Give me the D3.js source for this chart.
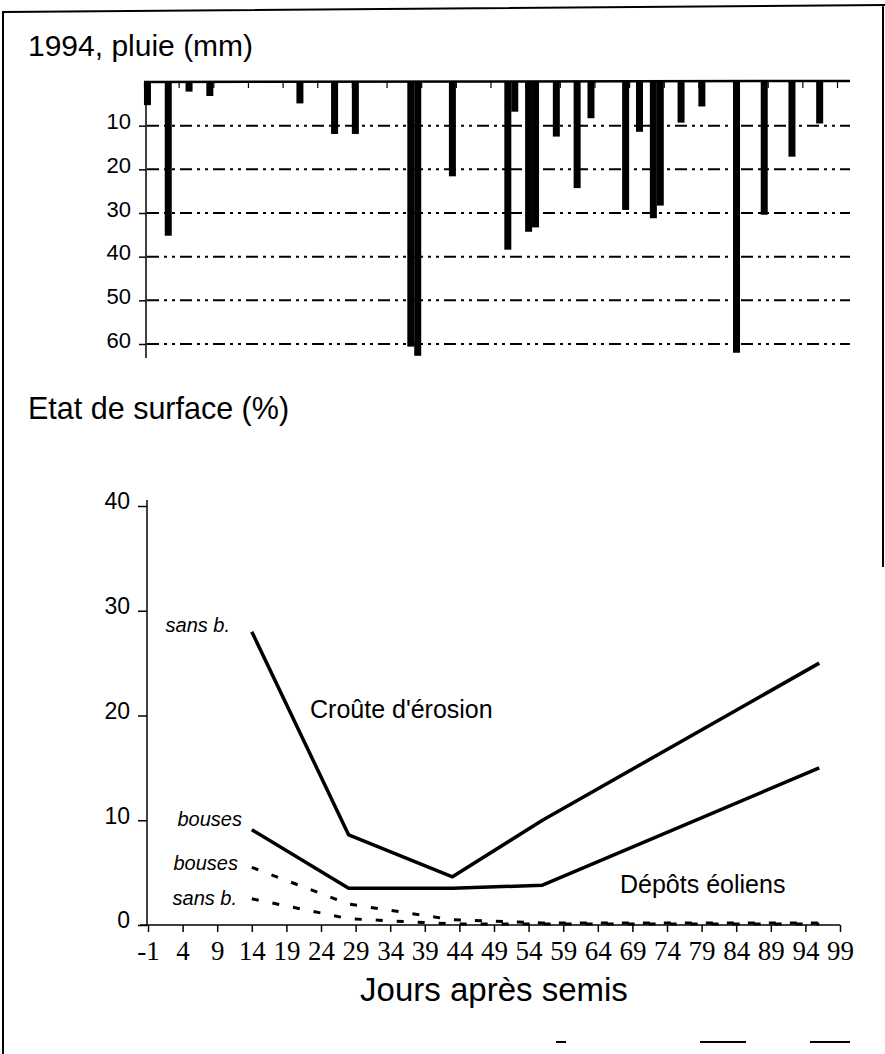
<!DOCTYPE html>
<html>
<head>
<meta charset="utf-8">
<script src="https://cdn.jsdelivr.net/npm/d3@7"></script>
<style>
  body { margin: 0; background: #fff; }
</style>
</head>
<body>
<div id="chart"></div>
<script>
// rainfall, 1994 (day after sowing, mm)
var rainDays = [-1, 2, 5, 8, 21, 26, 29, 37, 38, 43, 51, 52, 54, 55, 58, 61, 63, 68, 70, 72, 73, 76, 79, 84, 88, 92, 96];
var rainMm = [5.3, 35.2, 2.2, 3.2, 4.9, 11.9, 11.9, 60.6, 62.7, 21.6, 38.4, 6.8, 34.3, 33.3, 12.5, 24.3, 8.3, 29.3, 11.4, 31.2, 28.3, 9.3, 5.6, 62, 30.4, 17.1, 9.5];
var rainTicks = [10, 20, 30, 40, 50, 60];

// surface state (%)
var surfDays = [14, 28, 43, 56, 96];
var crouteSansB = [28, 8.6, 4.6, 10, 25];
var crouteBouses = [9.1, 3.5, 3.5, 3.8, 15];
var eolBouses = [5.5, 2.0, 0.5, 0.2, 0.2];
var eolSansB = [2.5, 0.6, 0.1, 0.1, 0.1];
var pctTicks = [0, 10, 20, 30, 40];
var dayTicks = d3.range(-1, 100, 5);

var W = 885, H = 1054;
var SANS = "'Liberation Sans', Arial, sans-serif";
var SERIF = "'Liberation Serif', 'Times New Roman', serif";

var svg = d3.select("#chart").append("svg")
    .attr("width", W)
    .attr("height", H)
    .style("font-family", SANS);

// frame (scanned page border)
svg.append("path")
    .attr("d", "M3,1054 L3,12 L885,5 M883,5 L883,567")
    .attr("fill", "none")
    .attr("stroke", "#000")
    .attr("stroke-width", 2);

//------------------ top chart : rain ------------------//
var xRain = d3.scaleLinear().domain([-1, 99]).range([144, 837]);
var yRain = d3.scaleLinear().domain([0, 60]).range([82, 344]);

svg.append("text")
    .attr("x", 28).attr("y", 56)
    .attr("font-size", 30)
    .text("1994, pluie (mm)");

// dash-dot grid
svg.append("g").selectAll("line")
    .data(rainTicks)
    .enter().append("line")
    .attr("x1", 147).attr("x2", 850)
    .attr("y1", d => yRain(d)).attr("y2", d => yRain(d))
    .attr("stroke", "#000")
    .attr("stroke-width", 2)
    .attr("stroke-dasharray", "12,5,3,5,3,5");

// bars hanging from the top axis
svg.append("g").selectAll("rect")
    .data(rainDays.map((d, i) => ({ day: d, mm: rainMm[i] })))
    .enter().append("rect")
    .attr("x", d => xRain(d.day + 0.5) - 3.5)
    .attr("y", yRain(0))
    .attr("width", 7)
    .attr("height", d => yRain(d.mm) - yRain(0))
    .attr("fill", "#000");

// left axis
var leftRain = d3.axisLeft(yRain).tickValues(rainTicks).tickSize(7).tickPadding(8);
var gl = svg.append("g")
    .attr("transform", "translate(146,0)")
    .call(leftRain);
gl.select(".domain").remove();
gl.selectAll("line").attr("stroke-width", 1.5);
gl.selectAll("text")
    .style("font-family", SANS)
    .style("font-size", "22px")
    .attr("dy", "0.15em");
svg.append("line")
    .attr("x1", 146).attr("x2", 146)
    .attr("y1", yRain(0)).attr("y2", 358)
    .attr("stroke", "#000").attr("stroke-width", 1.5);

// top axis
var topRain = d3.axisBottom(xRain).tickValues(dayTicks).tickSize(6).tickFormat("");
var gt = svg.append("g")
    .attr("transform", `translate(0,${yRain(0)})`)
    .call(topRain);
gt.select(".domain").remove();
gt.selectAll("line").attr("stroke-width", 1.2);
svg.append("line")
    .attr("x1", 144).attr("x2", 850)
    .attr("y1", yRain(0)).attr("y2", yRain(0) - 1)
    .attr("stroke", "#000").attr("stroke-width", 2.5);

//------------------ bottom chart : surface ------------------//
var xDay = d3.scaleLinear().domain([-1, 99]).range([148, 840]);
var yPct = d3.scaleLinear().domain([0, 40]).range([925, 506]);

svg.append("text")
    .attr("x", 28).attr("y", 419)
    .attr("font-size", 30.5)
    .text("Etat de surface (%)");

var leftPct = d3.axisLeft(yPct).tickValues(pctTicks).tickSize(9).tickPadding(8);
var gy = svg.append("g")
    .attr("transform", "translate(147,0)")
    .call(leftPct);
gy.select(".domain").remove();
gy.selectAll("line").attr("stroke-width", 1.5);
gy.selectAll("text")
    .style("font-family", SANS)
    .style("font-size", "23px")
    .attr("dy", "0.12em");
svg.append("line")
    .attr("x1", 147).attr("x2", 147)
    .attr("y1", 500).attr("y2", yPct(0))
    .attr("stroke", "#000").attr("stroke-width", 1.5);

var bottomDay = d3.axisBottom(xDay).tickValues(dayTicks).tickSize(7).tickPadding(9)
    .tickFormat(d => String(d));
var gx = svg.append("g")
    .attr("transform", `translate(0,${yPct(0)})`)
    .call(bottomDay);
gx.select(".domain").remove();
gx.selectAll("line").attr("stroke-width", 1.5);
gx.selectAll("text")
    .style("font-family", SERIF)
    .style("font-size", "27px");
svg.append("line")
    .attr("x1", 140).attr("x2", 840)
    .attr("y1", yPct(0)).attr("y2", yPct(0))
    .attr("stroke", "#000").attr("stroke-width", 1.5);

svg.append("text")
    .attr("x", 494).attr("y", 1001)
    .attr("text-anchor", "middle")
    .attr("font-size", 33)
    .text("Jours après semis");

// series lines
var line = d3.line()
    .x(d => xDay(d[0]))
    .y(d => yPct(d[1]));

function series(vals) {
    return surfDays.map((d, i) => [d, vals[i]]);
}

[crouteSansB, crouteBouses].forEach(function(vals) {
    svg.append("path")
        .datum(series(vals))
        .attr("d", line)
        .attr("fill", "none")
        .attr("stroke", "#000")
        .attr("stroke-width", 3.5)
        .attr("stroke-linejoin", "round");
});

[eolBouses, eolSansB].forEach(function(vals) {
    svg.append("path")
        .datum(series(vals))
        .attr("d", line)
        .attr("fill", "none")
        .attr("stroke", "#000")
        .attr("stroke-width", 3)
        .attr("stroke-dasharray", "7,14");
});

// line labels
var italicLabels = [
    { t: "sans b.", x: 230, y: 632 },
    { t: "bouses", x: 242, y: 826 },
    { t: "bouses", x: 238, y: 870 },
    { t: "sans b.", x: 237, y: 905 }
];
svg.append("g").selectAll("text")
    .data(italicLabels)
    .enter().append("text")
    .attr("x", d => d.x).attr("y", d => d.y)
    .attr("text-anchor", "end")
    .attr("font-size", 20)
    .attr("font-style", "italic")
    .text(d => d.t);

svg.append("text")
    .attr("x", 310).attr("y", 718)
    .attr("font-size", 25)
    .text("Croûte d'érosion");

svg.append("text")
    .attr("x", 620).attr("y", 893)
    .attr("font-size", 25)
    .text("Dépôts éoliens");

// scan marks along the bottom edge
svg.append("g").selectAll("line")
    .data([[556, 566], [700, 746], [810, 850]])
    .enter().append("line")
    .attr("x1", d => d[0]).attr("x2", d => d[1])
    .attr("y1", 1042).attr("y2", 1042)
    .attr("stroke", "#000").attr("stroke-width", 2);
</script>
</body>
</html>
